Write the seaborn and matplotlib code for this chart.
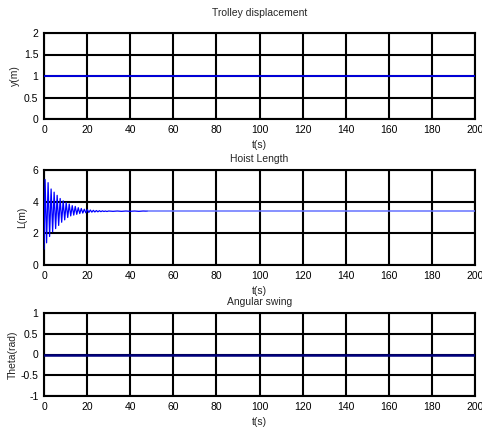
import numpy as np
import pandas as pd
import matplotlib
matplotlib.use("Agg")
import matplotlib.pyplot as plt
import seaborn as sns

# ---- data ----
x_ticks = [0, 20, 40, 60, 80, 100, 120, 140, 160, 180, 200]
y1_ticks = [0, 0.5, 1, 1.5, 2]
y2_ticks = [0, 2, 4, 6]
y3_ticks = [-1, -0.5, 0, 0.5, 1]
y3_labels = ["-1", "-0.5", "0", "0.5", "1"]

trolley_t = [0, 200]
trolley_y = [1.0, 1.0]

# hoist length: extrema of the decaying oscillation
hoist_t = [0, 0.5, 1.2, 1.9, 2.6, 3.3, 4.0, 4.7, 5.4, 6.1, 6.8, 7.5, 8.2, 8.9, 9.6,
           10.3, 11.0, 11.7, 12.4, 13.1, 13.8, 14.5, 15.2, 15.9, 16.6, 17.3, 18.0,
           18.7, 19.4, 20.1, 20.8, 21.5, 22.2, 22.9, 23.6, 24.3, 25.0, 25.7, 26.4,
           27.1, 27.8, 28.5, 29.2, 30.0, 32.0, 34.0, 36.0, 38.0, 40.0, 42.0, 44.0,
           46.0, 48.0]
hoist_L = [1.0, 5.4, 1.4, 5.2, 1.8, 4.8, 2.1, 4.6, 2.3, 4.4, 2.5, 4.2, 2.7, 4.05, 2.85,
           3.95, 3.0, 3.85, 3.1, 3.75, 3.15, 3.7, 3.2, 3.62, 3.25, 3.57, 3.28, 3.52,
           3.3, 3.5, 3.32, 3.47, 3.34, 3.45, 3.35, 3.44, 3.36, 3.43, 3.37, 3.42,
           3.38, 3.41, 3.38, 3.41, 3.39, 3.41, 3.39, 3.41, 3.39, 3.41, 3.39, 3.41, 3.40]
hoist_tail_t = [48, 200]
hoist_tail_L = [3.40, 3.40]

swing_t = [0, 200]
swing_th = [0.0, 0.0]

titles = ["Trolley displacement", "Hoist Length", "Angular swing"]
ylabels = ["y(m)", "L(m)", "Theta(rad)"]
xlabel = "t(s)"

# ---- styling ----
sns.set_theme(style="white")
plt.rcParams["font.family"] = ["Liberation Sans", "DejaVu Sans"]
FS = 7.5
plt.rcParams["font.size"] = FS

fig = plt.figure(figsize=(4.82, 4.28), dpi=100)
W, H = 482, 428

def make_ax(top, bottom):
    return fig.add_axes([44 / W, 1 - bottom / H, (475 - 44) / W, (bottom - top) / H])

ax1 = make_ax(33, 119)
ax2 = make_ax(170, 265)
ax3 = make_ax(313, 396)

df1 = pd.DataFrame({"t": trolley_t, "v": trolley_y})
df2 = pd.DataFrame({"t": hoist_t, "v": hoist_L})
df2b = pd.DataFrame({"t": hoist_tail_t, "v": hoist_tail_L})
df3 = pd.DataFrame({"t": swing_t, "v": swing_th})

sns.lineplot(data=df1, x="t", y="v", ax=ax1, color="#0000ee", lw=1.3, zorder=5)
sns.lineplot(data=df2, x="t", y="v", ax=ax2, color="#0000ff", lw=0.9, zorder=5)
sns.lineplot(data=df2b, x="t", y="v", ax=ax2, color="#6673ff", lw=1.1, zorder=5)
sns.lineplot(data=df3, x="t", y="v", ax=ax3, color="#000080", lw=1.8, zorder=5)

for ax, yt, ylab, title, tpad in [(ax1, y1_ticks, None, titles[0], 12),
                                  (ax2, y2_ticks, None, titles[1], 6),
                                  (ax3, y3_ticks, y3_labels, titles[2], 5.5)]:
    ax.set_xlim(0, 200)
    ax.set_ylim(yt[0], yt[-1])
    ax.set_xticks(x_ticks)
    ax.set_yticks(yt)
    if ylab is not None:
        ax.set_yticklabels(ylab)
    else:
        ax.set_yticklabels([("%g" % v) for v in yt])
    ax.grid(True, color="black", lw=1.5, ls="-")
    ax.set_axisbelow(True)
    for s in ax.spines.values():
        s.set_color("black")
        s.set_linewidth(1.5)
    ax.tick_params(axis="x", labelsize=FS, length=0, pad=4, colors="black")
    ax.tick_params(axis="y", labelsize=FS, length=0, pad=4, colors="black")
    ax.set_title(title, fontsize=FS, pad=tpad)
    ax.set_xlabel(xlabel, fontsize=FS, labelpad=4)

ax1.set_ylabel(ylabels[0], fontsize=FS, labelpad=3)
ax2.set_ylabel(ylabels[1], fontsize=FS, labelpad=4)
ax3.set_ylabel(ylabels[2], fontsize=FS, labelpad=2)

fig.savefig("out.png", dpi=100)
